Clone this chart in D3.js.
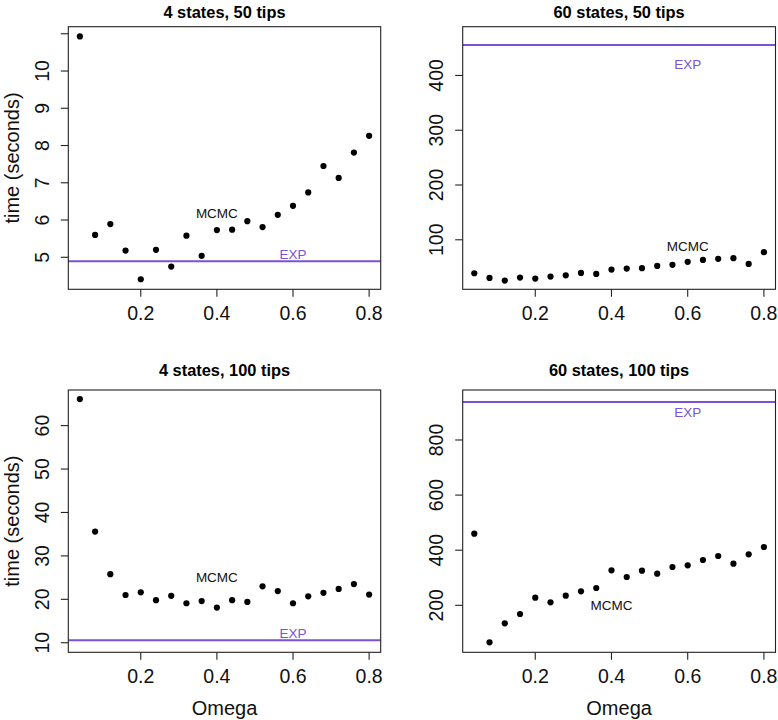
<!DOCTYPE html>
<html>
<head>
<meta charset="utf-8">
<script src="https://cdnjs.cloudflare.com/ajax/libs/d3/7.8.5/d3.min.js"></script>
<style>
  body { margin: 0; background: #fff; }
  svg { display: block; font-family: "Liberation Sans", Arial, Helvetica, sans-serif; }
  .box { fill: none; stroke: #222; stroke-width: 1.1; }
  .tick-line { stroke: #222; stroke-width: 1.1; }
</style>
</head>
<body>
<div id="plot"></div>
<script>
// Omega values shared by all four panels
const omega = [0.04, 0.08, 0.12, 0.16, 0.20, 0.24, 0.28, 0.32, 0.36, 0.40,
               0.44, 0.48, 0.52, 0.56, 0.60, 0.64, 0.68, 0.72, 0.76, 0.80];

// MCMC run times (seconds) per panel
const mcmc4s50 = [10.93, 5.60, 5.89, 5.18, 4.41, 5.20, 4.75, 5.58, 5.04, 5.73,
                  5.74, 5.97, 5.81, 6.14, 6.38, 6.74, 7.45, 7.13, 7.81, 8.26];
const mcmc60s50 = [38.9, 30.3, 25.5, 31.0, 29.1, 32.8, 35.2, 39.5, 37.7, 45.6,
                   47.5, 48.1, 52.3, 54.2, 59.7, 63.3, 65.2, 66.4, 56.0, 77.4];
const mcmc4s100 = [66.1, 35.6, 25.8, 21.0, 21.6, 19.8, 20.8, 19.1, 19.6, 18.1,
                   19.8, 19.4, 23.0, 21.9, 19.1, 20.7, 21.5, 22.4, 23.5, 21.1];
const mcmc60s100 = [460, 65.7, 134.7, 168.5, 227.8, 210.9, 235.1, 250.8, 262.9, 327.0,
                    302.8, 325.8, 314.9, 339.1, 345.2, 364.5, 379.0, 351.2, 385.1, 411.7];

// exact (EXP) times, drawn as horizontal lines
const expTimes = [4.89, 455.6, 10.6, 937.9];

const titles = ["4 states, 50 tips", "60 states, 50 tips", "4 states, 100 tips", "60 states, 100 tips"];

// axis limits and ticks
const xLimits = [0.0096, 0.8304];
const xTicks = [0.2, 0.4, 0.6, 0.8];
const yLimits = [[4.14, 11.19], [9.6, 489], [7.8, 68.2], [29.5, 981.4]];
const yTicks = [[5, 6, 7, 8, 9, 10, 11], [100, 200, 300, 400], [10, 20, 30, 40, 50, 60], [200, 400, 600, 800]];
const yTickLabels = [["5", "6", "7", "8", "9", "10", ""], ["100", "200", "300", "400"],
                     ["10", "20", "30", "40", "50", "60"], ["200", "400", "600", "800"]];

// label positions (data coordinates) for the in-plot text
const mcmcLabelAt = [[0.4, 6.19], [0.6, 89], [0.4, 25.0], [0.4, 200]];
const expLabelAt = [[0.6, 5.08], [0.6, 420], [0.6, 12.15], [0.6, 901.6]];

const series = [mcmc4s50, mcmc60s50, mcmc4s100, mcmc60s100];

const W = 778, H = 720;
const expColor = "#7a52d6";

// plot region of each panel, in pixels
const cols = [[68.3, 380.7], [462.7, 775.5]];
const rows = [[26.7, 289.3], [390, 652.3]];
const titleBaseline = [17.5, 375.5];

const svg = d3.select("#plot").append("svg")
  .attr("width", W)
  .attr("height", H);

svg.append("rect").attr("width", W).attr("height", H).attr("fill", "#fff");

titles.forEach((title, i) => {
  const col = i % 2, row = Math.floor(i / 2);
  const [x0, x1] = cols[col];
  const [y0, y1] = rows[row];

  const x = d3.scaleLinear().domain(xLimits).range([x0, x1]);
  const y = d3.scaleLinear().domain(yLimits[i]).range([y1, y0]);

  const g = svg.append("g");

  // EXP line across the box
  g.append("line")
    .attr("x1", x0).attr("x2", x1)
    .attr("y1", y(expTimes[i])).attr("y2", y(expTimes[i]))
    .attr("stroke", expColor)
    .attr("stroke-width", 2);

  // MCMC points
  g.selectAll("circle")
    .data(omega.map((o, k) => ({ o: o, t: series[i][k] })))
    .join("circle")
    .attr("cx", (d) => x(d.o))
    .attr("cy", (d) => y(d.t))
    .attr("r", 3.1)
    .attr("fill", "#000");

  // box
  g.append("rect")
    .attr("class", "box")
    .attr("x", x0).attr("y", y0)
    .attr("width", x1 - x0).attr("height", y1 - y0);

  // x axis ticks + labels
  xTicks.forEach((t) => {
    g.append("line").attr("class", "tick-line")
      .attr("x1", x(t)).attr("x2", x(t))
      .attr("y1", y1).attr("y2", y1 + 7.5);
    g.append("text")
      .attr("x", x(t)).attr("y", y1 + 31)
      .attr("text-anchor", "middle")
      .attr("font-size", 19.5)
      .attr("fill", "#111")
      .text(d3.format(".1f")(t));
  });

  // y axis ticks + rotated labels
  yTicks[i].forEach((t, k) => {
    g.append("line").attr("class", "tick-line")
      .attr("x1", x0 - 7.5).attr("x2", x0)
      .attr("y1", y(t)).attr("y2", y(t));
    g.append("text")
      .attr("transform", `translate(${x0 - 19.5},${y(t)}) rotate(-90)`)
      .attr("text-anchor", "middle")
      .attr("font-size", 19.5)
      .attr("fill", "#111")
      .text(yTickLabels[i][k]);
  });

  // panel title
  g.append("text")
    .attr("x", (x0 + x1) / 2).attr("y", titleBaseline[row])
    .attr("text-anchor", "middle")
    .attr("font-size", 16.4)
    .attr("font-weight", "bold")
    .text(title);

  // in-plot labels
  g.append("text")
    .attr("x", x(mcmcLabelAt[i][0])).attr("y", y(mcmcLabelAt[i][1]))
    .attr("dy", "0.35em")
    .attr("text-anchor", "middle")
    .attr("font-size", 13.5)
    .attr("fill", "#111")
    .text("MCMC");
  g.append("text")
    .attr("x", x(expLabelAt[i][0])).attr("y", y(expLabelAt[i][1]))
    .attr("dy", "0.35em")
    .attr("text-anchor", "middle")
    .attr("font-size", 13.5)
    .attr("fill", expColor)
    .text("EXP");

  // axis titles: y on the left column, x on the bottom row
  if (col === 0) {
    g.append("text")
      .attr("transform", `translate(18.5,${(y0 + y1) / 2}) rotate(-90)`)
      .attr("text-anchor", "middle")
      .attr("font-size", 20)
      .attr("fill", "#111")
      .text("time (seconds)");
  }
  if (row === 1) {
    g.append("text")
      .attr("x", (x0 + x1) / 2).attr("y", 715)
      .attr("text-anchor", "middle")
      .attr("font-size", 20)
      .attr("fill", "#111")
      .text("Omega");
  }
});
</script>
</body>
</html>
